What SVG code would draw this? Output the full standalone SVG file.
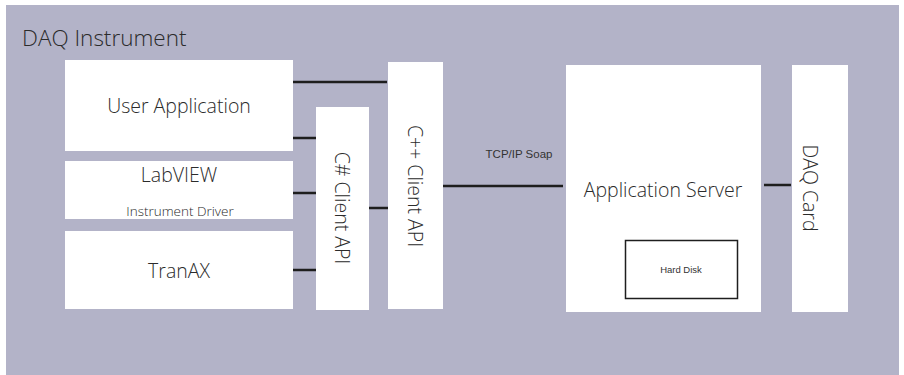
<svg xmlns="http://www.w3.org/2000/svg" width="904" height="375" viewBox="0 0 904 375">
<style>
.bg{fill:#b3b3c8}
.box{fill:#ffffff}
.t{font-family:"Open Sans","Noto Sans","Liberation Sans",sans-serif;font-weight:300;fill:#2b2b2b}
.s{font-family:"Liberation Sans",Arial,sans-serif;fill:#333333}
.ln{stroke:#1e1e1e;stroke-width:2.5;fill:none}
</style>
<rect class="bg" x="6" y="5" width="893" height="370"/>
<text class="t" x="22" y="46" font-size="22.5">DAQ Instrument</text>
<g id="user-application">
<rect class="box" x="65" y="60" width="228" height="91"/>
<text class="t" x="179" y="113" font-size="19.5" text-anchor="middle">User Application</text>
</g>
<g id="labview">
<rect class="box" x="65" y="161" width="228" height="58"/>
<text class="t" x="179" y="182" font-size="19.5" text-anchor="middle">LabVIEW</text>
<text class="t" x="180" y="216" font-size="13.5" text-anchor="middle">Instrument Driver</text>
</g>
<g id="tranax">
<rect class="box" x="65" y="231" width="228" height="78"/>
<text class="t" x="179" y="278" font-size="19.5" text-anchor="middle">TranAX</text>
</g>
<g id="csharp-api">
<rect class="box" x="316" y="107" width="53" height="203"/>
<text class="t" transform="translate(335,208) rotate(90)" font-size="19.5" text-anchor="middle">C# Client API</text>
</g>
<g id="cpp-api">
<rect class="box" x="388" y="62" width="55" height="247"/>
<text class="t" transform="translate(408,186) rotate(90)" font-size="19.5" text-anchor="middle">C++ Client API</text>
</g>
<g id="application-server">
<rect class="box" x="566" y="65" width="195" height="247"/>
<text class="t" x="663" y="197" font-size="19.5" text-anchor="middle">Application Server</text>
<rect x="625.5" y="240.5" width="112" height="58" fill="#ffffff" stroke="#1e1e1e" stroke-width="1.5"/>
<text class="s" x="681" y="273" font-size="9.5" text-anchor="middle">Hard Disk</text>
</g>
<g id="daq-card">
<rect class="box" x="792" y="65" width="56" height="247"/>
<text class="t" transform="translate(803,188) rotate(90)" font-size="19.5" text-anchor="middle">DAQ Card</text>
</g>
<g id="connectors">
<line class="ln" x1="293" y1="82" x2="387" y2="82"/>
<line class="ln" x1="293" y1="138" x2="316" y2="138"/>
<line class="ln" x1="293" y1="193" x2="316" y2="193"/>
<line class="ln" x1="293" y1="270" x2="316" y2="270"/>
<line class="ln" x1="369" y1="208" x2="388" y2="208"/>
<line class="ln" x1="443" y1="186" x2="563" y2="186"/>
<line class="ln" x1="764" y1="185" x2="791" y2="185"/>
<text class="s" x="519" y="158" font-size="11.5" text-anchor="middle">TCP/IP Soap</text>
</g>
</svg>
